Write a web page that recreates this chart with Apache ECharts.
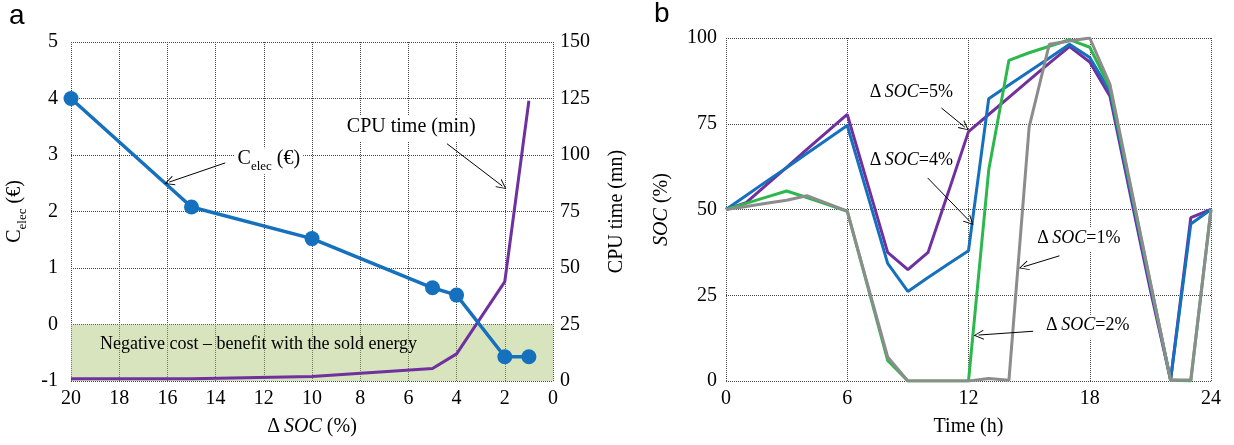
<!DOCTYPE html>
<html><head><meta charset="utf-8">
<script src="https://cdn.jsdelivr.net/npm/echarts@6/dist/echarts.min.js"></script>
<style>html,body{margin:0;padding:0;background:#fff}#c{width:1234px;height:445px}</style>
</head><body><div id="c"></div>
<script>
// ---- Panel a data ----
const dsoc = [20, 15, 10, 5, 4, 2, 1];
const celec = [4.0, 2.08, 1.52, 0.65, 0.52, -0.57, -0.57];
const cpuTime = [1, 1, 2, 5.5, 12, 44, 124];
// ---- Panel b data (hourly) ----
const hours = [0,1,2,3,4,5,6,7,8,9,10,11,12,13,14,15,16,17,18,19,20,21,22,23,24];
const soc5 = [50,52,57.2,62.3,67.5,72.6,77.7,57.6,37.5,32.5,37.5,55,72.7,77.7,82.7,87.7,92.7,97.5,93,83,54.5,26.5,0.3,47.6,50];
const soc4 = [50,54.1,58.2,62.2,66.3,70.4,74.5,54.4,34.3,26.1,30.2,34.1,38,82.3,86.3,90.2,94.2,98.2,94.3,84.5,56,28,0.3,45.8,50];
const soc2 = [50,51.8,53.6,55.4,53.5,51.5,49.5,27.8,6,0,0,0,0,61.5,93.5,95.7,97.6,99.5,97.3,85.5,57,28.5,0.3,0,50];
const soc1 = [50,50.9,51.8,52.7,54,51.8,49.5,28.2,7,0,0,0,0,0.7,0.2,74,98.2,99.1,100,86.5,57.6,28.8,0.3,0.3,50];
// ---- tick/axis ranges ----
const xTicksA = {min:0, max:20, interval:2};
const yTicksA = {min:-1, max:5, interval:1};
const y2TicksA = {min:0, max:150, interval:25};
const xTicksB = {min:0, max:24, interval:6};
const yTicksB = {min:0, max:100, interval:25};
// ---- texts ----
const negText = 'Negative cost – benefit with the sold energy';

const SERIF = 'Liberation Serif';
const chart = echarts.init(document.getElementById('c'));
function tickLabel(margin) {
  return {margin: margin, fontFamily: SERIF, fontSize: 20, color: '#000'};
}
const split = {show: true, lineStyle: {color: '#444', width: 1, type: [1, 1]}};
const nameStyle = {
  fontFamily: SERIF, fontSize: 20, color: '#000',
  rich: {
    n: {fontFamily: SERIF, fontSize: 20, color: '#000', verticalAlign: 'bottom', padding: [0,0,4,0]},
    i: {fontFamily: SERIF, fontSize: 20, color: '#000', fontStyle: 'italic', verticalAlign: 'bottom', padding: [0,0,4,0]},
    s: {fontFamily: SERIF, fontSize: 13, color: '#000', verticalAlign: 'bottom'}
  }
};
function annRich(fs) {
  return {
    n: {fontFamily: SERIF, fontSize: fs, color: '#000', verticalAlign: 'bottom', padding: [0,0,4,0]},
    i: {fontFamily: SERIF, fontSize: fs, color: '#000', fontStyle: 'italic', verticalAlign: 'bottom', padding: [0,0,4,0]},
    s: {fontFamily: SERIF, fontSize: Math.round(fs * 0.65), color: '#000', verticalAlign: 'bottom'}
  };
}
const arrowSym = 'path://M5,0 L10,12 L9,12 L5,2.2 L1,12 L0,12 Z';
function textPoints(items, fs) {
  return {silent: true, symbol: 'circle', symbolSize: 0, itemStyle: {color: 'rgba(0,0,0,0)'},
    label: {show: true, position: 'inside', color: '#000', fontFamily: SERIF, fontSize: fs, rich: annRich(fs)},
    data: items.map(t => ({coord: t.at, label: {formatter: t.text,
      backgroundColor: t.bg ? '#fff' : 'transparent', padding: t.bg ? [1, 3] : 0}}))};
}
function arrows(items) {
  return {silent: true, symbol: ['none', arrowSym], symbolSize: 10,
    lineStyle: {color: '#000', width: 1, type: 'solid'}, label: {show: false},
    emphasis: {disabled: true},
    data: items.map(a => [{coord: a[0]}, {coord: a[1]}])};
}
const pairs = (xs, ys) => xs.map((x, i) => [x, ys[i]]);

const option = {
  animation: false,
  backgroundColor: '#fff',
  textStyle: {fontFamily: SERIF, color: '#000'},
  graphic: [
    {type: 'text', left: 9, top: 2, style: {text: 'a', font: '28px "Liberation Sans"', fill: '#000'}},
    {type: 'text', left: 654, top: 0, style: {text: 'b', font: '28px "Liberation Sans"', fill: '#000'}}
  ],
  grid: [
    {left: 71, right: 681, top: 42, bottom: 64},
    {left: 726, right: 23, top: 38, bottom: 64}
  ],
  xAxis: [
    Object.assign({gridIndex: 0, type: 'value', inverse: true,
      axisLine: {show: false}, axisTick: {show: false},
      axisLabel: tickLabel(8), splitLine: split,
      name: '{n|Δ\u2009}{i|SOC}{n| (%)}', nameLocation: 'middle', nameGap: 36, nameTextStyle: nameStyle}, xTicksA),
    Object.assign({gridIndex: 1, type: 'value',
      axisLine: {show: false}, axisTick: {show: false},
      axisLabel: tickLabel(8), splitLine: split,
      name: 'Time (h)', nameLocation: 'middle', nameGap: 36, nameTextStyle: nameStyle}, xTicksB)
  ],
  yAxis: [
    Object.assign({gridIndex: 0, type: 'value',
      axisLine: {show: false}, axisTick: {show: false},
      axisLabel: tickLabel(13), splitLine: split,
      name: '{n|C}{s|elec}{n| (€)}', nameLocation: 'middle', nameRotate: 90, nameGap: 42, nameTextStyle: nameStyle}, yTicksA),
    Object.assign({gridIndex: 0, type: 'value', position: 'right',
      axisLine: {show: false}, axisTick: {show: false},
      axisLabel: tickLabel(7), splitLine: {show: false},
      name: 'CPU time (mn)', nameLocation: 'middle', nameRotate: 90, nameGap: 54, nameTextStyle: nameStyle}, y2TicksA),
    Object.assign({gridIndex: 1, type: 'value',
      axisLine: {show: false}, axisTick: {show: false},
      axisLabel: tickLabel(9), splitLine: split,
      name: '{i|SOC}{n| (%)}', nameLocation: 'middle', nameRotate: 90, nameGap: 50, nameTextStyle: nameStyle}, yTicksB)
  ],
  series: [
    {type: 'line', name: 'CPU time', xAxisIndex: 0, yAxisIndex: 1, data: pairs(dsoc, cpuTime),
      showSymbol: false, lineStyle: {color: '#7030a0', width: 3}, itemStyle: {color: '#7030a0'},
      markArea: {silent: true, itemStyle: {color: 'rgba(166,195,108,0.45)'},
        label: {show: true, position: 'insideLeft', offset: [24, -8], color: '#000', fontFamily: SERIF, fontSize: 18},
        data: [[{name: negText, coord: [20, 0]}, {coord: [0, 25]}]]}},
    {type: 'line', name: 'Celec', xAxisIndex: 0, yAxisIndex: 0, data: pairs(dsoc, celec),
      symbol: 'circle', symbolSize: 15, lineStyle: {color: '#1570be', width: 3.5}, itemStyle: {color: '#1570be'},
      markPoint: textPoints([
        {at: [11.79, 2.89], text: '{n|C}{s|elec}{n| (€)}', bg: true},
        {at: [5.88, 3.46], text: '{n|CPU time (min)}', bg: true}
      ], 20),
      markLine: arrows([
        [[13.6, 2.86], [15.93, 2.52]],
        [[4.4, 3.2], [2.1, 2.45]]
      ])},
    {type: 'line', name: 'ΔSOC=5%', xAxisIndex: 1, yAxisIndex: 2, data: pairs(hours, soc5),
      showSymbol: false, lineStyle: {color: '#7030a0', width: 3}, itemStyle: {color: '#7030a0'}},
    {type: 'line', name: 'ΔSOC=4%', xAxisIndex: 1, yAxisIndex: 2, data: pairs(hours, soc4),
      showSymbol: false, lineStyle: {color: '#1570be', width: 3}, itemStyle: {color: '#1570be'}},
    {type: 'line', name: 'ΔSOC=2%', xAxisIndex: 1, yAxisIndex: 2, data: pairs(hours, soc2),
      showSymbol: false, lineStyle: {color: '#2db84d', width: 3}, itemStyle: {color: '#2db84d'}},
    {type: 'line', name: 'ΔSOC=1%', xAxisIndex: 1, yAxisIndex: 2, data: pairs(hours, soc1),
      showSymbol: false, lineStyle: {color: '#8c8c8c', width: 3}, itemStyle: {color: '#8c8c8c'},
      markPoint: textPoints([
        {at: [9.17, 83.5], text: '{n|Δ\u2009}{i|SOC}{n|=5%}'},
        {at: [9.17, 63.7], text: '{n|Δ\u2009}{i|SOC}{n|=4%}'},
        {at: [17.46, 41.1], text: '{n|Δ\u2009}{i|SOC}{n|=1%}', bg: true},
        {at: [17.9, 15.8], text: '{n|Δ\u2009}{i|SOC}{n|=2%}', bg: true}
      ], 18),
      markLine: arrows([
        [[10.66, 79.6], [11.82, 74]],
        [[9.98, 59.2], [12.07, 46.5]],
        [[16.5, 36.5], [14.73, 33.3]],
        [[15.2, 14.5], [12.5, 13.4]]
      ])}
  ]
};
chart.setOption(option);
</script></body></html>
